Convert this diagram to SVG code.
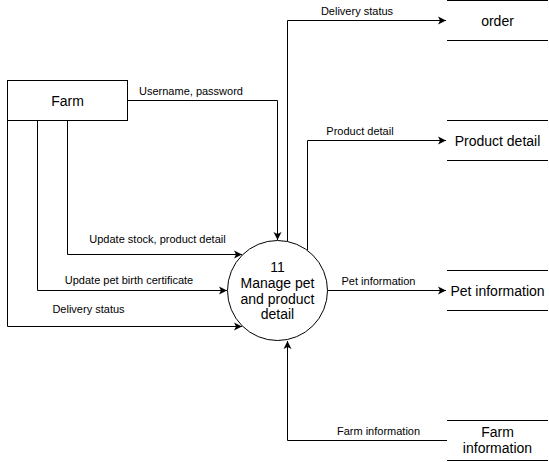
<svg xmlns="http://www.w3.org/2000/svg" width="549" height="462" viewBox="0 0 549 462">
<style>
.ln{fill:none;stroke:#000;stroke-width:1}
.el{font-family:"Liberation Sans",Arial,sans-serif;font-size:11px;fill:#000;text-anchor:middle}
.nt{font-family:"Liberation Sans",Arial,sans-serif;font-size:14px;fill:#000;text-anchor:middle}
.sh{fill:#fff;stroke:#000;stroke-width:1}
</style>
<defs>
<marker id="arr" markerUnits="userSpaceOnUse" markerWidth="10" markerHeight="10" refX="8" refY="4" orient="auto" viewBox="0 0 10 8">
<path d="M0,0 L8,4 L0,8 L2,4 Z" fill="#000"/>
</marker>
</defs>
<rect width="549" height="462" fill="#fff"/>
<g id="connectors">
<path class="ln" d="M127.5,100.5 H277.5 V240" marker-end="url(#arr)"/>
<path class="ln" d="M287.5,241 V20.5 H446" marker-end="url(#arr)"/>
<path class="ln" d="M307.5,250 V140.5 H446" marker-end="url(#arr)"/>
<path class="ln" d="M67.5,120 V254.5 H242" marker-end="url(#arr)"/>
<path class="ln" d="M37.5,120 V290.5 H227" marker-end="url(#arr)"/>
<path class="ln" d="M7.5,120 V326.5 H242" marker-end="url(#arr)"/>
<path class="ln" d="M327.5,290.5 H446" marker-end="url(#arr)"/>
<path class="ln" d="M447,440.5 H287.5 V341" marker-end="url(#arr)"/>
<text class="el" x="191" y="95">Username, password</text>
<text class="el" x="357" y="15">Delivery status</text>
<text class="el" x="360" y="135">Product detail</text>
<text class="el" x="157.5" y="243">Update stock, product detail</text>
<text class="el" x="129" y="284">Update pet birth certificate</text>
<text class="el" x="88.5" y="313">Delivery status</text>
<text class="el" x="378.5" y="285">Pet information</text>
<text class="el" x="378.5" y="435">Farm information</text>
</g>
<g id="farm">
<rect class="sh" x="7.5" y="80.5" width="120" height="40"/>
<text class="nt" x="67.5" y="106">Farm</text>
</g>
<g id="process11">
<circle class="sh" cx="277.5" cy="290.5" r="50"/>
<text class="nt" x="277.5" y="272">11</text>
<text class="nt" x="277.5" y="288">Manage pet</text>
<text class="nt" x="277.5" y="303.5">and product</text>
<text class="nt" x="277.5" y="319">detail</text>
</g>
<g id="store-order">
<path class="ln" d="M447,0.5 H548 M447,40.5 H548"/>
<text class="nt" x="497.5" y="26">order</text>
</g>
<g id="store-product">
<path class="ln" d="M447,120.5 H548 M447,160.5 H548"/>
<text class="nt" x="497.5" y="146">Product detail</text>
</g>
<g id="store-pet">
<path class="ln" d="M447,270.5 H548 M447,310.5 H548"/>
<text class="nt" x="497.5" y="296">Pet information</text>
</g>
<g id="store-farm">
<path class="ln" d="M447,420.5 H548 M447,460.5 H548"/>
<text class="nt" x="497.5" y="437">Farm</text>
<text class="nt" x="497.5" y="453">information</text>
</g>
</svg>
